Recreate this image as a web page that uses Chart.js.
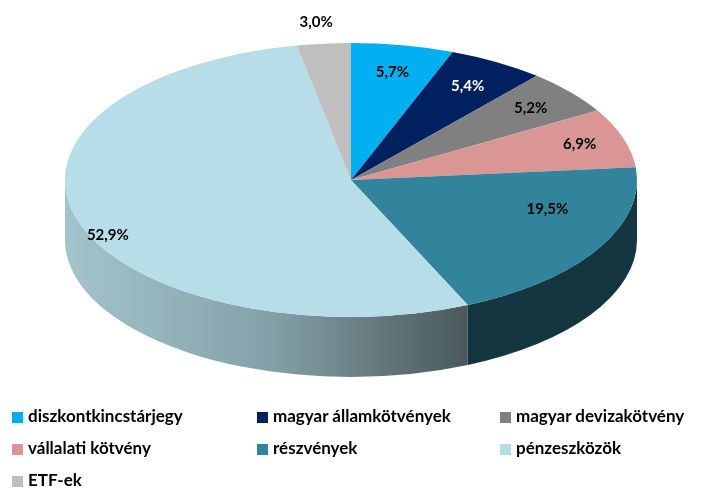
<!DOCTYPE html>
<html>
<head>
<meta charset="utf-8">
<script src="https://cdn.jsdelivr.net/npm/chart.js@4"></script>
<style>
  body { margin: 0; background: #fff; }
  #wrap { position: relative; width: 707px; height: 488px; }
  #legend { position: absolute; left: 0; top: 403px; width: 707px; font-family: Lato, sans-serif; font-weight: bold; font-size: 17px; color: #000; }
  #legend .item { position: absolute; height: 26px; line-height: 26px; white-space: nowrap; }
  #legend .box { display: inline-block; width: 11px; height: 11px; margin-right: 5px; vertical-align: -1px; }
</style>
</head>
<body>
<div id="wrap">
  <canvas id="myChart" width="707" height="488"></canvas>
  <div id="legend"></div>
</div>
<script>
// data
const categories = ['diszkontkincstárjegy', 'magyar államkötvények', 'magyar devizakötvény', 'vállalati kötvény', 'részvények', 'pénzeszközök', 'ETF-ek'];
const shares = [5.7, 5.4, 5.2, 6.9, 19.5, 52.9, 3.0];
const sliceColors = ['#00B0F0', '#002060', '#808080', '#DA9694', '#31849B', '#B7DEE8', '#BFBFBF'];
const sideColors = ['#0080b0', '#001030', '#505050', '#9a6a68', '#153540', null, '#8a8a8a'];
const labelColors = ['#000', '#fff', '#000', '#000', '#000', '#000', '#000'];
// label placement: share of the slice's sweep, and distance from the centre
const labelAt = [0.5, 0.5, 0.5, 0.5, 0.32, 0.46, 0.45];
const labelRadius = [0.8, 0.8, 0.82, 0.84, 0.72, 0.94, 1.16];

// where the tilted pie sits on the page
const pie = { x: 351, y: 180, rx: 286, ry: 137, depth: 60 };

let tiltPlugin = {
  id: 'tilt',
  beforeDatasetsDraw: chart => {
    let ctx = chart.ctx;
    let arcs = chart.getDatasetMeta(0).data;
    let R = arcs[0].outerRadius;
    // side walls (front half only)
    arcs.forEach((arc, i) => {
      let s = Math.max(arc.startAngle, 0);
      let e = Math.min(arc.endAngle, Math.PI);
      if (e <= s) return;
      ctx.save();
      ctx.beginPath();
      ctx.ellipse(pie.x, pie.y, pie.rx, pie.ry, 0, s, e);
      ctx.ellipse(pie.x, pie.y + pie.depth, pie.rx, pie.ry, 0, e, s, true);
      ctx.closePath();
      if (sideColors[i]) {
        ctx.fillStyle = sideColors[i];
      } else {
        let g = ctx.createLinearGradient(pie.x - pie.rx, 0, pie.x + 130, 0);
        g.addColorStop(0, '#a3c4cc');
        g.addColorStop(0.5, '#83a0a7');
        g.addColorStop(1, '#465356');
        ctx.fillStyle = g;
      }
      ctx.fill();
      ctx.restore();
    });
    // top face: squash the circle into an ellipse
    ctx.save();
    ctx.translate(pie.x, pie.y);
    ctx.scale(pie.rx / R, pie.ry / R);
    ctx.translate(-arcs[0].x, -arcs[0].y);
  },
  afterDatasetsDraw: chart => {
    let ctx = chart.ctx;
    ctx.restore();
    let arcs = chart.getDatasetMeta(0).data;
    ctx.save();
    ctx.font = 'bold 15px Lato, sans-serif';
    ctx.textAlign = 'center';
    ctx.textBaseline = 'middle';
    arcs.forEach((arc, i) => {
      let a = arc.startAngle + (arc.endAngle - arc.startAngle) * labelAt[i];
      let f = labelRadius[i];
      let lx = pie.x + pie.rx * f * Math.cos(a);
      let ly = pie.y + pie.ry * f * Math.sin(a);
      ctx.fillStyle = labelColors[i];
      ctx.fillText(shares[i].toFixed(1).replace('.', ',') + '%', lx, ly);
    });
    ctx.restore();
  }
};

let ctx = document.getElementById('myChart').getContext('2d');
let chart = new Chart(ctx, {
  type: 'pie',
  data: {
    labels: categories,
    datasets: [
      {
        data: shares,
        backgroundColor: sliceColors,
        borderWidth: 0
      }
    ]
  },
  options: {
    responsive: false,
    animation: false,
    events: [],
    plugins: {
      legend: { display: false },
      tooltip: { enabled: false }
    }
  },
  plugins: [tiltPlugin]
});

// legend in three columns, like the original
let cols = [12, 257, 500];
let legend = document.getElementById('legend');
categories.forEach((name, i) => {
  let item = document.createElement('div');
  item.className = 'item';
  item.style.left = cols[i % 3] + 'px';
  item.style.top = Math.floor(i / 3) * 32 + 'px';
  item.innerHTML = '<span class="box" style="background:' + sliceColors[i] + '"></span>' + name;
  legend.appendChild(item);
});
</script>
</body>
</html>
